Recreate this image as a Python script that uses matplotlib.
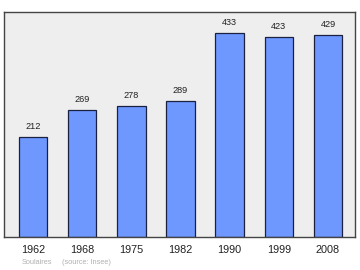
import matplotlib
matplotlib.use("Agg")
import matplotlib.pyplot as plt

plt.rcParams["font.family"] = ["Liberation Sans", "DejaVu Sans"]

years = ["1962", "1968", "1975", "1982", "1990", "1999", "2008"]
population = [212, 269, 278, 289, 433, 423, 429]

W, H = 360, 270
fig = plt.figure(figsize=(W / 100, H / 100), dpi=100)
fig.patch.set_facecolor("white")

x0, x1, yb, yt = 4, 355, 237, 12
ax = fig.add_axes([x0 / W, 1 - yb / H, (x1 - x0) / W, (yb - yt) / H])
ax.set_facecolor("#eeeeee")

xs = list(range(len(years)))
ax.bar(xs, population, width=0.58, color="#6f98ff", edgecolor="#1a2040", linewidth=0.9)
for x, v in zip(xs, population):
    ax.text(x, v + 13, str(v), ha="center", va="bottom", fontsize=6.6, color="#222222")

ax.set_xlim(-0.59, 6.55)
ax.set_ylim(0, 477)
ax.set_yticks([])
ax.set_xticks(xs)
ax.set_xticklabels(years, fontsize=7.8, color="#222222")
ax.tick_params(axis="x", length=0, pad=6)
for s in ax.spines.values():
    s.set_color("#444444")
    s.set_linewidth(1.0)

fig.text(22 / W, 1 - 263 / H, "Soulaires", fontsize=5.3, color="#b0b0b0", va="center")
fig.text(62 / W, 1 - 263 / H, "(source: Insee)", fontsize=5.3, color="#b0b0b0", va="center")

fig.savefig("out.png", dpi=100)
